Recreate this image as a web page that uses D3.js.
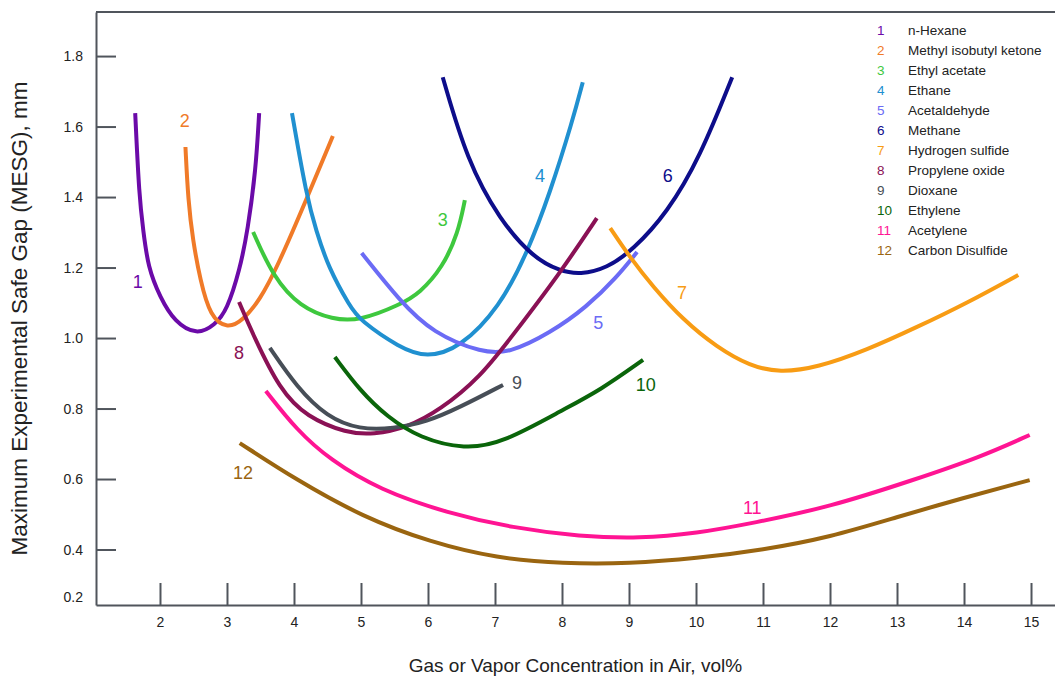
<!DOCTYPE html>
<html>
<head>
<meta charset="utf-8">
<script src="https://cdn.jsdelivr.net/npm/d3@7"></script>
<style>
  body { margin: 0; background: #fff; }
  text { font-family: "Liberation Sans", Arial, sans-serif; }
</style>
</head>
<body>
<div id="mesg"></div>
<script>
// gas names, colours and the number label for each curve
var names = ["n-Hexane", "Methyl isobutyl ketone", "Ethyl acetate", "Ethane", "Acetaldehyde", "Methane",
  "Hydrogen sulfide", "Propylene oxide", "Dioxane", "Ethylene", "Acetylene", "Carbon Disulfide"];
var colors = ["#6b0aa8", "#f07a28", "#3ec83e", "#2090d0", "#6b6bf5", "#0d0d8a",
  "#f89c14", "#8a1155", "#474e57", "#0a650a", "#ff1493", "#9a6510"];

// curve points: [vol%, MESG mm]
var hexane = [[1.63,1.638],[1.69,1.40],[1.75,1.306],[1.82,1.201],[2.0,1.116],[2.22,1.045],[2.55,1.008],[2.82,1.037],[3.0,1.079],[3.19,1.193],[3.31,1.306],[3.43,1.477],[3.48,1.638]];
var mibk = [[2.38,1.542],[2.42,1.391],[2.49,1.278],[2.6,1.165],[2.75,1.06],[3.01,1.026],[3.24,1.051],[3.49,1.108],[3.75,1.201],[4.18,1.391],[4.58,1.573]];
var ethylAcetate = [[3.39,1.301],[3.69,1.173],[4.09,1.088],[4.58,1.052],[4.98,1.049],[5.58,1.094],[5.88,1.128],[6.22,1.201],[6.45,1.298],[6.55,1.391]];
var ethane = [[3.97,1.638],[4.19,1.40],[4.33,1.306],[4.51,1.201],[4.84,1.088],[4.98,1.051],[5.58,0.972],[5.98,0.944],[6.48,0.972],[7.07,1.088],[7.48,1.241],[7.82,1.411],[8.16,1.618],[8.31,1.726]];
var acetaldehyde = [[5.01,1.241],[5.58,1.105],[6.07,1.014],[6.82,0.957],[7.22,0.958],[7.82,1.014],[8.37,1.088],[8.82,1.173],[9.12,1.244]];
var methane = [[6.22,1.74],[6.58,1.505],[7.07,1.335],[7.57,1.228],[7.97,1.19],[8.27,1.18],[8.67,1.198],[9.06,1.25],[9.57,1.355],[10.06,1.513],[10.54,1.74]];
var h2s = [[8.72,1.312],[9.01,1.23],[9.36,1.145],[9.81,1.051],[10.31,0.974],[10.81,0.92],[11.25,0.902],[11.81,0.916],[12.55,0.966],[13.3,1.031],[14.04,1.099],[14.81,1.179]];
var propyleneOxide = [[3.18,1.102],[3.39,1.009],[3.79,0.852],[4.19,0.776],[4.79,0.73],[5.18,0.726],[5.69,0.746],[6.18,0.796],[6.78,0.889],[7.27,1.009],[7.97,1.184],[8.52,1.34]];
var dioxane = [[3.64,0.972],[4.04,0.861],[4.49,0.776],[4.98,0.74],[5.48,0.743],[5.98,0.762],[6.48,0.804],[7.12,0.867]];
var ethylene = [[4.61,0.946],[4.98,0.852],[5.39,0.776],[5.88,0.716],[6.55,0.684],[7.12,0.703],[8.01,0.796],[8.57,0.852],[9.21,0.938]];
var acetylene = [[3.58,0.85],[4.04,0.739],[4.54,0.654],[5.28,0.569],[6.28,0.504],[7.27,0.461],[8.27,0.437],[9.16,0.431],[10.01,0.446],[10.85,0.475],[12.0,0.521],[13.24,0.597],[14.24,0.662],[14.98,0.725]];
var cs2 = [[3.19,0.702],[4.04,0.597],[5.03,0.492],[6.03,0.421],[7.03,0.375],[8.01,0.36],[9.01,0.36],[10.01,0.375],[11.0,0.399],[12.0,0.435],[13.0,0.492],[13.98,0.546],[14.98,0.597]];

// where each curve number sits on the plot
var labelPos = [[1.67,1.159],[2.37,1.616],[6.22,1.335],[7.67,1.46],[8.54,1.043],[9.58,1.46],
  [9.79,1.128],[3.18,0.957],[7.33,0.872],[9.25,0.867],[10.84,0.52],[3.24,0.617]];

// axis ticks
var xTicks = [2,3,4,5,6,7,8,9,10,11,12,13,14,15];
var yTicks = [0.4,0.6,0.8,1.0,1.2,1.4,1.6,1.8];
var yBottomLabel = "0.2";

var series = [hexane, mibk, ethylAcetate, ethane, acetaldehyde, methane, h2s, propyleneOxide, dioxane, ethylene, acetylene, cs2];

var W = 1055, H = 677;
var margin = {top: 12, right: 0, bottom: 72, left: 96};
var width = W - margin.left - margin.right;
var height = H - margin.top - margin.bottom;
var axisColor = "#50555c";

var svg = d3.select("#mesg").append("svg")
    .attr("width", W).attr("height", H)
  .append("g")
    .attr("transform", "translate(" + margin.left + "," + margin.top + ")");

var x = d3.scaleLinear().domain([1.045, 15.358]).range([0, width]);
var y = d3.scaleLinear().domain([0.2426, 1.925]).range([height, 0]);

//frame: top line, left and bottom axes
svg.append("line").attr("x1", 0).attr("x2", width).attr("y1", 0).attr("y2", 0)
  .attr("stroke", axisColor).attr("stroke-width", 2);

//y-axis, ticks pointing into the plot
var yAxis = svg.append("g").attr("class", "y-axis")
  .call(d3.axisRight(y).tickValues(yTicks).tickFormat(d3.format(".1f")).tickSize(20).tickSizeOuter(0));
yAxis.select(".domain").attr("stroke", axisColor).attr("stroke-width", 2);
yAxis.selectAll(".tick line").attr("stroke", axisColor).attr("stroke-width", 2);
yAxis.selectAll(".tick text").attr("x", -13).attr("text-anchor", "end")
  .attr("font-size", 14).attr("fill", "#222").attr("font-family", "Liberation Sans, Arial, sans-serif");
yAxis.append("text")
  .attr("x", -13).attr("y", y(y.domain()[0]) - 7).attr("dy", "0.32em")
  .attr("text-anchor", "end").attr("font-size", 14).attr("fill", "#222")
  .text(yBottomLabel);

//x-axis, ticks pointing up
var xAxis = svg.append("g").attr("class", "x-axis")
  .attr("transform", "translate(0," + height + ")")
  .call(d3.axisTop(x).tickValues(xTicks).tickFormat(d3.format("d")).tickSize(22).tickSizeOuter(0));
xAxis.select(".domain").attr("stroke", axisColor).attr("stroke-width", 2);
xAxis.selectAll(".tick line").attr("stroke", axisColor).attr("stroke-width", 2);
xAxis.selectAll(".tick text").attr("y", 18).attr("dy", "0.32em")
  .attr("font-size", 14).attr("fill", "#222").attr("font-family", "Liberation Sans, Arial, sans-serif");

//axis titles
svg.append("text")
  .attr("x", x(8.2)).attr("y", height + 67)
  .attr("text-anchor", "middle").attr("font-size", 19).attr("fill", "#222")
  .text("Gas or Vapor Concentration in Air, vol%");
svg.append("text")
  .attr("transform", "translate(" + (-76) + "," + (height / 2 + 10) + ") rotate(-90)")
  .attr("dy", "0.32em")
  .attr("text-anchor", "middle").attr("font-size", 22.5).attr("fill", "#222")
  .text("Maximum Experimental Safe Gap (MESG), mm");

//curves
var line = d3.line()
  .x(function(d) { return x(d[0]); })
  .y(function(d) { return y(d[1]); })
  .curve(d3.curveBasis);

svg.selectAll(".gas")
  .data(series)
  .enter().append("path")
    .attr("class", "gas")
    .attr("d", line)
    .attr("fill", "none")
    .attr("stroke", function(d, i) { return colors[i]; })
    .attr("stroke-width", 4)
    .attr("stroke-linecap", "butt");

//curve numbers
svg.selectAll(".num")
  .data(labelPos)
  .enter().append("text")
    .attr("class", "num")
    .attr("x", function(d) { return x(d[0]); })
    .attr("y", function(d) { return y(d[1]); })
    .attr("dy", "0.35em")
    .attr("text-anchor", "middle")
    .attr("font-size", 18)
    .attr("fill", function(d, i) { return colors[i]; })
    .text(function(d, i) { return i + 1; });

//legend
var legend = svg.append("g").attr("transform", "translate(" + (877 - margin.left) + "," + (30 - margin.top) + ")");
var row = legend.selectAll(".row")
  .data(names)
  .enter().append("g")
    .attr("transform", function(d, i) { return "translate(0," + (i * 20) + ")"; });
row.append("text")
  .attr("dy", "0.35em").attr("font-size", 13.5)
  .attr("fill", function(d, i) { return colors[i]; })
  .text(function(d, i) { return i + 1; });
row.append("text")
  .attr("x", 31).attr("dy", "0.35em").attr("font-size", 13.5).attr("fill", "#222")
  .text(function(d) { return d; });
</script>
</body>
</html>
